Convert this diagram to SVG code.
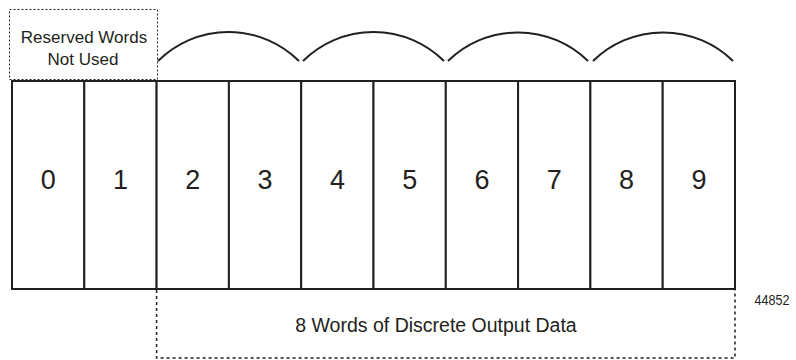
<svg xmlns="http://www.w3.org/2000/svg" width="796" height="360" viewBox="0 0 796 360">
<style>
.cell{fill:#fff;stroke:#231f20;stroke-width:2}
.digit{font-family:"Liberation Sans",Arial,sans-serif;font-size:27px;fill:#231f20;text-anchor:middle}
.lbl{font-family:"Liberation Sans",Arial,sans-serif;fill:#231f20;text-anchor:middle}
.arc{fill:none;stroke:#231f20;stroke-width:2}
.dot{fill:none;stroke:#231f20;stroke-width:1;stroke-dasharray:2 2}
.dash{fill:none;stroke:#231f20;stroke-width:1.5;stroke-dasharray:3 3}
</style>
<rect width="796" height="360" fill="#fff"/>
<g id="reserved">
<rect class="dot" x="9.5" y="9.5" width="148" height="70"/>
<text class="lbl" x="84" y="43" font-size="17">Reserved Words</text>
<text class="lbl" x="83" y="65" font-size="17">Not Used</text>
</g>
<g id="word0"><rect class="cell" x="12" y="81" width="72.3" height="208"/><text class="digit" x="48.2" y="189">0</text></g>
<g id="word1"><rect class="cell" x="84.3" y="81" width="72.3" height="208"/><text class="digit" x="120.5" y="189">1</text></g>
<g id="word2"><rect class="cell" x="156.6" y="81" width="72.3" height="208"/><text class="digit" x="192.8" y="189">2</text></g>
<g id="word3"><rect class="cell" x="228.9" y="81" width="72.3" height="208"/><text class="digit" x="265.1" y="189">3</text></g>
<g id="word4"><rect class="cell" x="301.2" y="81" width="72.3" height="208"/><text class="digit" x="337.4" y="189">4</text></g>
<g id="word5"><rect class="cell" x="373.5" y="81" width="72.3" height="208"/><text class="digit" x="409.7" y="189">5</text></g>
<g id="word6"><rect class="cell" x="445.8" y="81" width="72.3" height="208"/><text class="digit" x="482" y="189">6</text></g>
<g id="word7"><rect class="cell" x="518.1" y="81" width="72.3" height="208"/><text class="digit" x="554.3" y="189">7</text></g>
<g id="word8"><rect class="cell" x="590.4" y="81" width="72.3" height="208"/><text class="digit" x="626.6" y="189">8</text></g>
<g id="word9"><rect class="cell" x="662.7" y="81" width="72.3" height="208"/><text class="digit" x="698.9" y="189">9</text></g>
<g id="connectors">
<path class="arc" d="M158 61 A100 100 0 0 1 299 61"/>
<path class="arc" d="M303 61 A100 100 0 0 1 444 61"/>
<path class="arc" d="M448 61 A100 100 0 0 1 588 61"/>
<path class="arc" d="M593 61 A100 100 0 0 1 733 61"/>
</g>
<g id="output-data">
<path class="dash" d="M156.6 290 V358 H735 V290"/>
<text class="lbl" x="436" y="332" font-size="19.5">8 Words of Discrete Output Data</text>
</g>
<text class="lbl" x="772" y="305" font-size="14" textLength="35" lengthAdjust="spacingAndGlyphs">44852</text>
</svg>
